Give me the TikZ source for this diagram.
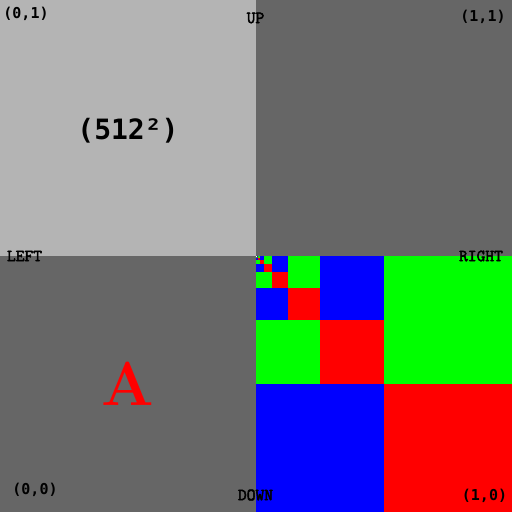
\documentclass[tikz,border=0pt]{standalone}
\usepackage{fontspec}
\usepackage{xcolor}
\usepackage{tikz}
\usetikzlibrary{positioning}
\newfontfamily\coordfont{DejaVu Sans Mono}
\newfontfamily\dirfont[FakeBold=3]{Latin Modern Mono}
\definecolor{mylight}{RGB}{180,180,180}
\definecolor{mydark}{RGB}{102,102,102}
\tikzstyle{coordlabel} = [inner sep=0pt, font=\coordfont\bfseries\fontsize{15}{15}\selectfont, text=black]
\tikzstyle{dirlabel} = [inner sep=0pt, font=\dirfont\fontsize{17}{17}\selectfont, text=black]

\begin{document}
\begin{tikzpicture}[x=1pt,y=-1pt]
\useasboundingbox (0,0) rectangle (512,512);

% quadrants
\fill[mylight] (0,0) rectangle (256,256);
\fill[mydark] (256,0) rectangle (512,256);
\fill[mydark] (0,256) rectangle (256,512);

% nested squares
\foreach \k in {1,...,8}{
  \pgfmathsetmacro{\s}{256/2^\k}
  \ifodd\k\relax \def\colTR{green}\def\colBL{blue}\else \def\colTR{blue}\def\colBL{green}\fi
  \fill[\colTR] (256+\s,256) rectangle ++(\s,\s);
  \fill[\colBL] (256,256+\s) rectangle ++(\s,\s);
  \fill[red] (256+\s,256+\s) rectangle ++(\s,\s);
}
\fill[white] (256,256) rectangle ++(1,1);

% labels
\node[coordlabel] (tl) at (26,14) {(0,1)};
\node[coordlabel] (tr) at (483,17) {(1,1)};
\node[coordlabel] (bl) at (35,490) {(0,0)};
\node[coordlabel] (br) at (484.5,496) {(1,0)};
\node[dirlabel] (up) at (255.5,18) {UP};
\node[dirlabel] (left) at (24.5,256) {LEFT};
\node[dirlabel] (right) at (481,256) {RIGHT};
\node[dirlabel] (down) at (255.5,495) {DOWN};
\node[inner sep=0pt, font=\coordfont\bfseries\fontsize{28}{28}\selectfont] (size) at (128,131) {(512²)};
\node[inner sep=0pt, text=red, font=\bfseries\fontsize{62}{62}\selectfont] (letter) at (128,383.5) {A};
\end{tikzpicture}
\end{document}
